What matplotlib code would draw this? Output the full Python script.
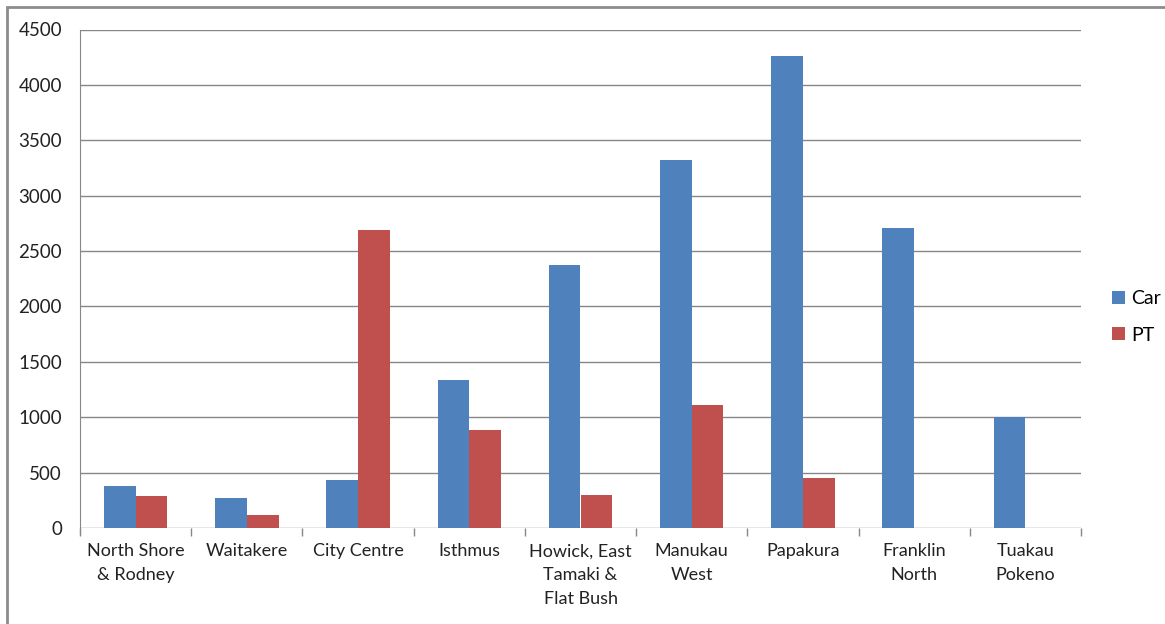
import numpy as np
import matplotlib.pyplot as plt
from matplotlib.patches import Rectangle

plt.rcParams['font.family'] = ['Lato', 'DejaVu Sans']

areas = ["North Shore\n& Rodney", "Waitakere", "City Centre", "Isthmus",
         "Howick, East\nTamaki &\nFlat Bush", "Manukau\nWest", "Papakura",
         "Franklin\nNorth", "Tuakau\nPokeno"]
car = [380, 270, 430, 1335, 2375, 3320, 4260, 2710, 1000]
pt = [290, 115, 2690, 885, 300, 1110, 450, 0, 0]

car_color = '#4F81BD'
pt_color = '#C0504D'
grid_color = '#868686'

fig = plt.figure(figsize=(11.65, 6.24), dpi=100)
ax = fig.add_axes([80 / 1165, 96 / 624, 1001 / 1165, 498.5 / 624])

x = np.arange(len(areas))
w = 1 / 3.5
ax.bar(x - w / 2, car, w, color=car_color, label='Car', zorder=3)
ax.bar(x + w / 2, pt, w, color=pt_color, label='PT', zorder=3)

ax.set_xlim(-0.5, len(areas) - 0.5)
ax.set_ylim(0, 4500)
ax.set_yticks(np.arange(0, 4501, 500))
ax.yaxis.grid(True, color=grid_color, linewidth=1)
ax.set_axisbelow(True)
ax.tick_params(axis='y', length=0, pad=13, labelsize=13.5, labelcolor='#222222')

# labels in the middle of each group, tick marks between the groups
ax.set_xticks(x)
ax.set_xticklabels(areas, fontsize=13, linespacing=1.6, color='#222222')
ax.tick_params(axis='x', which='major', length=0, pad=11)
ax.set_xticks(np.arange(-0.5, len(areas)), minor=True)
ax.tick_params(axis='x', which='minor', length=6, color=grid_color, width=1)

for side in ['top', 'right', 'bottom']:
    ax.spines[side].set_visible(False)
ax.spines['left'].set_color(grid_color)
ax.spines['left'].set_bounds(-55, 4500)

fig.legend(loc='center left', bbox_to_anchor=(1112 / 1165, 0.492), frameon=False,
           fontsize=14, handlelength=0.65, handleheight=0.65, handletextpad=0.35,
           labelspacing=1.0, borderpad=0, borderaxespad=0)

# chart frame
fig.patches.append(Rectangle((7 / 1165, -0.1), 1.2, 617 / 624 + 0.1,
                             transform=fig.transFigure, fill=False,
                             edgecolor='#8c8c8c', linewidth=2))

fig.savefig('out.png', dpi=100)
